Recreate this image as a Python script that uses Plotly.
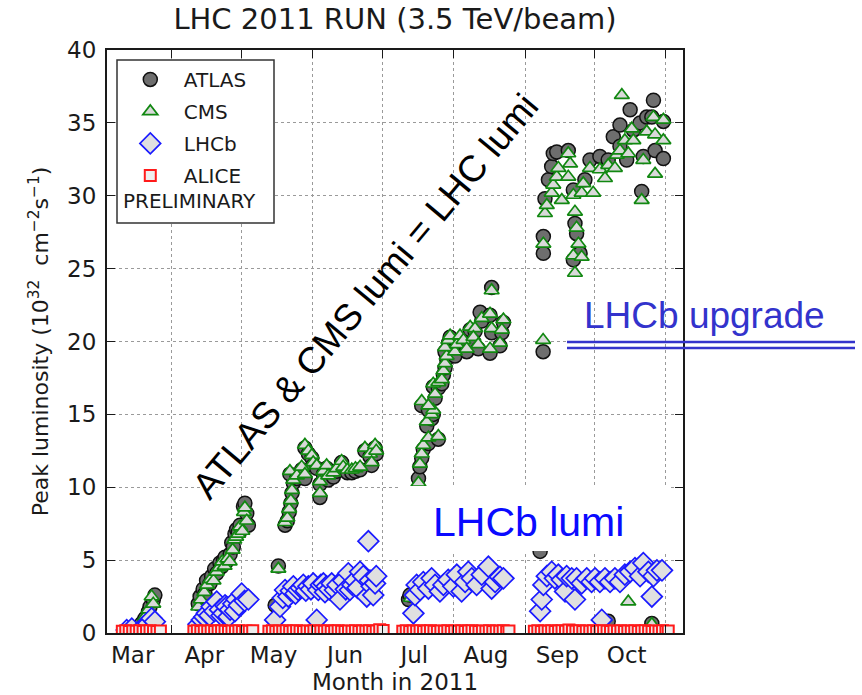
import pandas as pd
import plotly.graph_objects as go

# ---------------- data (x = days after 2011-03-01, y = peak lumi in 1e32 cm^-2 s^-1) -------------
atlas_day = [16.4, 17.9, 19.3, 20.8, 21.5, 22.9, 23.6,
             42.4, 43.2, 44.5, 45.3, 46.0, 47.5, 48.2, 49.5, 50.4, 51.8, 52.5, 53.3, 54.0, 54.7,
             56.2, 56.9, 57.6, 58.3, 59.0, 59.7, 60.5, 61.2, 62.0, 62.6, 63.4, 64.1,
             75.7, 77.1, 80.0, 81.0, 81.8, 82.5, 83.0, 83.6, 82.1, 85.1, 87.2, 88.6, 88.6, 90.1,
             91.6, 92.2, 93.7, 95.1, 95.1, 96.6, 98.0, 98.7, 100.9, 102.4, 104.5, 105.2, 107.0,
             108.9, 110.5, 112.5, 114.6, 116.8, 117.5, 119.0, 119.5,
             133.5, 134.1, 137.8, 138.4, 139.2, 139.9, 141.4, 142.1, 146.4, 143.5, 144.2, 139.2,
             142.1, 145.0, 144.2, 146.4, 147.9, 148.6, 149.3, 150.0, 149.3, 150.8, 151.5, 153.6,
             154.4, 155.8, 157.3, 158.7, 160.2, 162.3, 161.6, 163.7, 165.2, 164.5, 168.8, 169.5,
             168.8, 173.9, 174.6, 173.1, 169.5,
             190.5, 191.8, 191.9, 191.9, 192.6, 194.1, 195.5, 196.2, 197.7, 202.7, 204.9, 205.6,
             206.3, 204.9, 207.8, 209.9, 212.1, 216.4, 220.0, 222.2, 225.1, 225.1, 229.5, 230.9,
             228.0, 233.8, 234.5, 236.7, 239.6, 238.9, 235.2, 240.3, 243.9, 243.9, 220.0, 238.9]
atlas_lumi = [0.3, 0.66, 1.0, 1.46, 1.8, 2.26, 2.6,
              2.0, 2.5, 3.0, 2.7, 3.6, 3.4, 3.9, 4.4, 4.1, 4.8, 4.55, 5.0, 5.2, 4.9,
              5.4, 6.2, 5.9, 6.8, 7.1, 6.9, 7.4, 7.1, 8.7, 8.9, 8.2, 7.4,
              1.9, 4.6, 7.4, 7.7, 8.3, 8.9, 9.6, 10.3, 10.9, 10.6, 11.2, 10.6, 12.7, 12.3,
              12.0, 11.5, 11.3, 9.3, 10.2, 10.9, 11.3, 10.5, 10.7, 11.1, 11.7, 11.2, 11.0,
              11.0, 11.1, 11.2, 12.5, 12.1, 11.5, 12.7, 12.3,
              2.3, 2.6, 10.6, 11.4, 12.0, 12.6, 14.2, 13.0, 13.3, 14.7, 15.0, 15.6,
              15.3, 16.1, 16.9, 16.8, 17.1, 17.7, 18.2, 18.8, 19.3, 19.9, 20.3, 19.0,
              19.6, 20.1, 19.9, 19.3, 20.8, 20.7, 20.0, 19.5, 21.4, 22.0, 21.8, 20.6,
              19.2, 20.6, 21.3, 19.7, 23.7,
              5.6, 19.3, 27.2, 26.05, 29.8, 31.1, 32.0, 32.9, 33.0, 33.1, 30.4, 28.1,
              27.4, 25.6, 26.05, 31.1, 32.45, 32.7, 32.45, 34.05, 34.85, 33.4, 35.9, 34.5,
              32.45, 35.0, 30.3, 35.4, 36.55, 35.4, 32.7, 33.1, 32.55, 35.1, 0.8, 0.65]

cms_day = [17.9, 19.3, 20.8, 22.2, 22.9,
           42.4, 43.5, 45.0, 46.2, 47.8, 49.0, 50.4, 51.5, 52.8, 53.8, 55.0, 56.0, 57.3, 58.0,
           58.8, 59.7, 60.5, 61.5, 62.2, 62.6, 63.4,
           77.1, 80.0, 81.0, 81.8, 82.5, 83.0, 83.6, 82.1, 85.1, 87.2, 88.6, 88.6, 90.1, 91.6,
           92.2, 93.7, 95.1, 95.1, 96.6, 98.0, 98.7, 100.9, 102.4, 104.5, 105.2, 107.0, 108.9,
           110.5, 112.5, 114.6, 116.8, 117.5, 119.0, 119.5,
           134.5, 137.8, 138.4, 139.2, 139.9, 141.4, 142.1, 146.4, 143.5, 144.2, 139.2, 142.1,
           145.0, 144.2, 146.4, 147.9, 148.6, 149.3, 150.0, 149.3, 150.8, 151.5, 153.6, 154.4,
           155.8, 157.3, 158.7, 160.2, 162.3, 161.6, 163.7, 165.2, 168.8, 169.5, 168.8, 173.9,
           174.6, 173.1, 169.5,
           191.8, 191.9, 192.6, 193.4, 195.5, 196.2, 197.7, 198.4, 199.9, 202.7, 203.5, 202.7,
           204.9, 205.6, 206.3, 207.1, 204.9, 208.5, 205.6, 208.5, 209.2, 212.1, 213.5, 216.4,
           218.6, 220.0, 222.9, 223.7, 225.1, 228.7, 227.2, 230.2, 230.9, 225.9, 234.5, 235.2,
           236.7, 239.6, 240.3, 240.3, 243.9, 243.9, 228.7, 238.9]
cms_lumi = [0.66, 1.1, 1.6, 2.5, 2.0,
            1.8, 2.3, 2.8, 3.3, 3.7, 3.6, 4.2, 4.5, 4.9, 4.6, 5.1, 4.9, 5.7, 6.4,
            6.6, 6.8, 7.3, 7.0, 8.3, 8.6, 7.7,
            4.4, 7.6, 7.9, 8.5, 9.1, 9.8, 10.5, 11.1, 10.8, 11.4, 10.9, 12.9, 12.5, 12.2,
            11.7, 11.5, 9.6, 10.4, 11.1, 11.5, 10.8, 11.0, 11.3, 11.8, 11.4, 11.2, 11.2,
            11.3, 11.4, 12.7, 12.3, 11.7, 12.9, 12.5,
            2.4, 10.3, 11.6, 12.3, 12.9, 14.5, 13.4, 13.5, 15.0, 15.3, 15.9, 15.6,
            16.4, 17.1, 17.2, 17.4, 18.0, 18.5, 19.0, 19.6, 20.1, 20.4, 19.3, 19.8,
            20.4, 20.1, 19.5, 21.0, 20.9, 20.3, 19.8, 21.6, 21.9, 20.9, 19.5, 20.8,
            21.5, 19.9, 23.5,
            20.1, 26.7, 28.8, 29.35, 30.2, 30.75, 31.3, 31.9, 29.7, 32.9, 32.2, 31.3,
            30.05, 28.9, 27.8, 26.7, 25.9, 25.8, 24.7, 30.2, 30.85, 31.9, 30.2, 31.8,
            31.2, 32.1, 31.9, 32.8, 33.1, 32.9, 33.8, 34.6, 33.8, 36.9, 29.7, 32.45,
            34.4, 35.4, 34.2, 31.5, 35.2, 33.8, 2.15, 0.6]

lhcb_day = [11.4, 13.6, 18.6, 20.8, 22.2, 23.6,
            42.5, 43.9, 45.0, 46.1, 47.3, 48.2, 49.4, 50.4, 51.8, 52.5, 53.3, 54.0, 54.7, 55.5,
            56.2, 57.6, 58.3, 59.0, 60.0, 61.2, 62.5, 64.1,
            75.7, 77.8, 79.0, 80.0, 81.4, 82.5, 83.6, 84.5, 85.7, 86.8, 87.9, 89.0, 90.1, 91.2,
            92.2, 93.7, 94.4, 95.5, 96.6, 97.3, 98.0, 99.1, 100.2, 101.6, 102.7, 103.8, 105.2,
            106.3, 107.4, 108.1, 109.2, 110.3, 111.4, 112.5, 113.9, 115.4, 116.1, 116.8, 117.5,
            118.2, 119.0, 119.5,
            135.6, 136.3, 137.0, 138.5, 139.9, 142.1, 143.5, 145.0, 147.1, 148.6, 150.7, 152.9,
            154.4, 156.5, 158.0, 159.4, 160.9, 163.0, 165.2, 168.1, 169.5, 171.0, 173.1, 174.6,
            190.5, 191.2, 191.9, 193.4, 195.5, 196.9, 198.4, 199.9, 201.3, 202.0, 204.2, 205.6,
            206.3, 208.5, 210.7, 212.8, 214.3, 216.4, 217.2, 218.6, 220.8, 222.9, 225.1, 227.2,
            229.5, 231.6, 233.8, 235.2, 237.4, 238.9, 239.6, 241.1, 243.3]
lhcb_lumi = [0.2, 0.3, 0.43, 0.66, 1.0, 0.78,
             0.6, 0.9, 1.1, 1.35, 1.2, 1.8, 1.5, 2.15, 1.6, 1.2, 1.35, 1.9, 1.8, 1.1,
             1.6, 2.0, 1.5, 2.3, 1.9, 2.7, 2.2, 2.3,
             0.9, 1.8, 2.4, 2.95, 2.5, 2.9, 3.2, 2.7, 2.95, 3.1, 3.3, 2.9, 3.2, 3.0,
             3.4, 0.9, 2.95, 3.3, 3.4, 2.8, 3.2, 3.0, 3.4, 2.95, 3.3, 2.3, 3.6,
             3.0, 4.1, 2.95, 3.3, 3.6, 3.1, 4.2, 3.9, 2.5, 6.3, 3.6, 3.2,
             2.6, 3.4, 3.9,
             1.35, 2.6, 3.3, 2.95, 3.5, 3.05, 3.75, 3.3, 2.85, 3.3, 3.65, 3.2,
             4.0, 2.85, 3.5, 4.2, 3.75, 3.3, 4.0, 4.55, 3.05, 3.5, 3.85, 3.75,
             1.5, 2.3, 3.3, 3.9, 4.2, 3.75, 4.0, 3.65, 2.85, 3.9, 3.75, 2.3,
             3.75, 3.4, 3.75, 3.5, 3.75, 3.5, 0.9, 3.75, 3.5, 3.75, 3.5, 4.0,
             4.2, 4.45, 3.9, 4.8, 4.2, 2.5, 3.9, 4.3, 4.3]

alice_day = [9.5, 11.0, 12.5, 14.0, 15.5, 17.0, 18.5, 20.0, 21.5, 23.0, 24.5, 26.0,
             40.5, 42.0, 43.5, 45.0, 46.5, 48.0, 49.5, 51.0, 52.5, 54.0, 55.5, 57.0, 58.5,
             60.0, 61.5, 63.0, 64.5, 66.0,
             73.0, 74.5, 76.0, 77.5, 79.0, 80.5, 82.0, 83.5, 85.0, 86.5, 88.0, 89.5, 91.0,
             92.5, 94.0, 95.5, 97.0, 98.5, 100.0, 101.5, 103.0, 104.5, 106.0, 107.5, 109.0,
             110.5, 112.0, 113.5, 115.0, 116.5, 118.0, 119.5, 121.0, 122.5,
             131.0, 132.5, 134.0, 135.5, 137.0, 138.5, 140.0, 141.5, 143.0, 144.5, 146.0,
             147.5, 149.0, 150.5, 152.0, 153.5, 155.0, 156.5, 158.0, 159.5, 161.0, 162.5,
             164.0, 165.5, 167.0, 168.5, 170.0, 171.5, 173.0, 174.5, 176.0, 177.0,
             188.0, 189.5, 191.0, 192.5, 194.0, 195.5, 197.0, 198.5, 200.0, 201.5, 203.0,
             204.5, 206.0, 207.5, 209.0, 210.5, 212.0, 213.5, 215.0, 216.5, 218.0, 219.5,
             221.0, 222.5, 224.0, 225.5, 227.0, 228.5, 230.0, 231.5, 233.0, 234.5, 236.0,
             237.5, 239.0, 240.5, 242.0, 243.5, 245.0, 246.0]
alice_lumi = [0.12, 0.15, 0.1, 0.14, 0.12, 0.16, 0.1, 0.13, 0.15, 0.12, 0.1, 0.14,
              0.12, 0.15, 0.1, 0.14, 0.12, 0.16, 0.1, 0.13, 0.15, 0.12, 0.1, 0.14, 0.12,
              0.15, 0.1, 0.14, 0.12, 0.16,
              0.12, 0.15, 0.1, 0.14, 0.12, 0.16, 0.1, 0.13, 0.15, 0.12, 0.1, 0.14, 0.12,
              0.15, 0.1, 0.14, 0.12, 0.16, 0.1, 0.13, 0.15, 0.12, 0.1, 0.14, 0.12,
              0.15, 0.1, 0.14, 0.12, 0.16, 0.1, 0.13, 0.22, 0.18,
              0.12, 0.15, 0.1, 0.14, 0.12, 0.16, 0.1, 0.13, 0.15, 0.12, 0.1,
              0.14, 0.12, 0.15, 0.1, 0.14, 0.12, 0.16, 0.1, 0.13, 0.15, 0.12,
              0.1, 0.14, 0.12, 0.15, 0.1, 0.14, 0.12, 0.16, 0.1, 0.13,
              0.12, 0.15, 0.1, 0.14, 0.12, 0.16, 0.1, 0.13, 0.15, 0.12, 0.2,
              0.14, 0.12, 0.15, 0.1, 0.14, 0.12, 0.16, 0.1, 0.13, 0.15, 0.12,
              0.1, 0.14, 0.12, 0.15, 0.1, 0.14, 0.12, 0.16, 0.1, 0.13, 0.15,
              0.12, 0.1, 0.14, 0.12, 0.15, 0.1, 0.14]

month_labels = ["Mar", "Apr", "May", "Jun", "Jul", "Aug", "Sep", "Oct"]
label_dates = ["2011-03-15", "2011-04-15", "2011-05-15", "2011-06-15",
               "2011-07-15", "2011-08-15", "2011-09-15", "2011-10-15"]
month_starts = ["2011-04-01", "2011-05-01", "2011-06-01", "2011-07-01",
                "2011-08-01", "2011-09-01", "2011-10-01", "2011-11-01"]

base = pd.Timestamp("2011-03-01")


def to_dates(days):
    return [base + pd.Timedelta(days=d) for d in days]


fig = go.Figure()

series = [
    ("ATLAS", atlas_day, atlas_lumi, dict(symbol="circle", size=14, color="#6e6e6e",
                                          line=dict(color="#111111", width=1.5))),
    ("CMS", cms_day, cms_lumi, dict(symbol="triangle-up", size=13, color="#d9d9d9",
                                    line=dict(color="#118811", width=1.7))),
    ("LHCb", lhcb_day, lhcb_lumi, dict(symbol="diamond", size=16, color="#e0e0e0",
                                       line=dict(color="#1a1aff", width=1.7))),
    ("ALICE", alice_day, alice_lumi, dict(symbol="square", size=11, color="#eeeeee",
                                          line=dict(color="#ff1a1a", width=2))),
]
for name, d, v, mk in series:
    fig.add_trace(go.Scatter(x=to_dates(d), y=v, mode="markers", name=name,
                             legendgroup=name, marker=mk, cliponaxis=True))

# spacer row in the legend (PRELIMINARY is written over it)
fig.add_trace(go.Scatter(x=[None], y=[None], mode="markers", name=" ", legendgroup="sp",
                         marker=dict(size=1, opacity=0, color="rgba(0,0,0,0)"),
                         hoverinfo="skip"))

text_font = "DejaVu Sans, Bitstream Vera Sans, sans-serif"
ann_font = "Liberation Sans, Arial, sans-serif"

fig.update_layout(
    width=862, height=695,
    margin=dict(l=107, r=179, t=50, b=62),
    paper_bgcolor="white", plot_bgcolor="white",
    font=dict(family=text_font, color="#1a1a1a", size=22),
    title=dict(text="LHC 2011 RUN (3.5 TeV/beam)", x=395 / 862, xanchor="center",
               y=1 - 19 / 695, yanchor="middle", font=dict(size=29, color="#1a1a1a")),
    showlegend=True,
    legend=dict(x=0.017, y=0.983, xanchor="left", yanchor="top",
                bgcolor="rgba(0,0,0,0)", borderwidth=0,
                font=dict(size=20, family=text_font, color="#1a1a1a"),
                traceorder="grouped", tracegroupgap=3, itemwidth=57, itemsizing="trace"),
)

fig.update_xaxes(
    type="date", automargin=False,
    range=[base + pd.Timedelta(days=2.86), base + pd.Timedelta(days=252.4)],
    tickmode="array", tickvals=label_dates, ticktext=month_labels,
    ticks="", showgrid=False, zeroline=False,
    showline=True, linecolor="#1a1a1a", linewidth=2, mirror="ticks",
    tickfont=dict(size=23),
    minor=dict(tickmode="array", tickvals=month_starts, ticks="inside", ticklen=8,
               tickwidth=1.2, tickcolor="#1a1a1a", showgrid=True, gridcolor="#9a9a9a",
               griddash="dot", gridwidth=1),
    title=dict(text="Month in 2011", font=dict(size=23), standoff=12),
)
fig.update_yaxes(
    range=[0, 40], automargin=False,
    tickmode="array", tickvals=[0, 5, 10, 15, 20, 25, 30, 35, 40],
    ticks="inside", ticklen=8, tickwidth=1.2, tickcolor="#1a1a1a",
    showgrid=True, gridcolor="#9a9a9a", griddash="dot", gridwidth=1, zeroline=False,
    showline=True, linecolor="#1a1a1a", linewidth=2, mirror="ticks",
    tickfont=dict(size=23), ticklabelstandoff=4,
    title=dict(text="Peak luminosity (10<sup>32</sup>  cm<sup>−2</sup>s<sup>−1</sup>)",
               font=dict(size=22), standoff=12),
)

# legend frame (white box with border, like matplotlib)
fig.add_shape(type="rect", xref="paper", yref="paper",
              x0=(117 - 107) / 576, x1=(274 - 107) / 576,
              y0=(633 - 223) / 583, y1=(633 - 60) / 583,
              fillcolor="white", line=dict(color="#333333", width=1.5), layer="above")
fig.add_annotation(text="PRELIMINARY", xref="paper", yref="paper",
                   x=(121 - 107) / 576, y=(633 - 201) / 583, xanchor="left", yanchor="middle",
                   showarrow=False, font=dict(size=20, family=text_font, color="#1a1a1a"))

# white box behind "LHCb lumi"
fig.add_shape(type="rect", xref="paper", yref="paper",
              x0=(400 - 107) / 576, x1=(670 - 107) / 576,
              y0=(633 - 551) / 583, y1=(633 - 486) / 583,
              fillcolor="white", line=dict(width=0), layer="above")
fig.add_annotation(text="LHCb lumi", xref="paper", yref="paper",
                   x=(528 - 107) / 576, y=(633 - 522) / 583, xanchor="center", yanchor="middle",
                   showarrow=False, font=dict(size=41, family=ann_font, color="#0a0aff"))

fig.add_annotation(text="ATLAS & CMS lumi = LHC lumi", xref="paper", yref="paper",
                   x=(365 - 107) / 576, y=(633 - 296) / 583, xanchor="center", yanchor="middle",
                   textangle=-50, showarrow=False,
                   font=dict(size=37, family=ann_font, color="#000000"))

fig.add_annotation(text="LHCb upgrade", xref="paper", yref="paper",
                   x=(704 - 107) / 576, y=(633 - 315) / 583, xanchor="center", yanchor="middle",
                   showarrow=False, font=dict(size=37, family=ann_font, color="#3333cc"))
for ypx in (342, 348):
    fig.add_shape(type="line", xref="paper", yref="paper",
                  x0=(567 - 107) / 576, x1=(855 - 107) / 576,
                  y0=(633 - ypx) / 583, y1=(633 - ypx) / 583,
                  line=dict(color="#3333cc", width=2.5), layer="above")

fig.write_html("out.html")
